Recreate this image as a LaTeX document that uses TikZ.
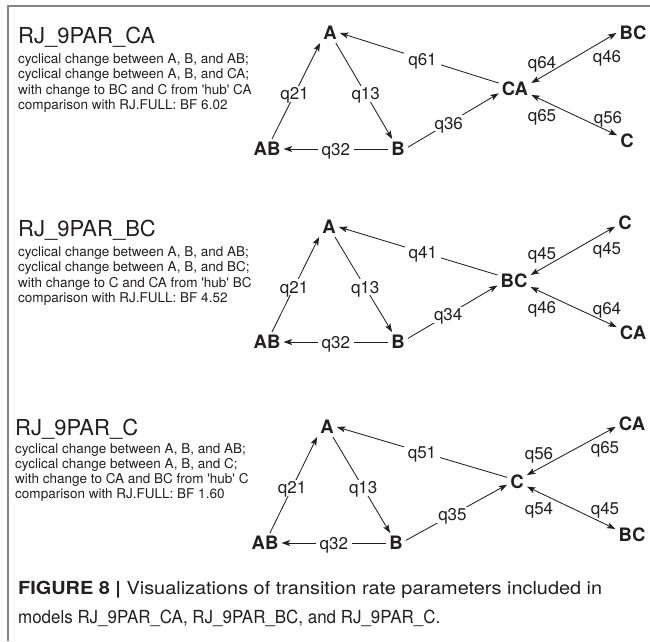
\documentclass[tikz,border=0pt]{standalone}
\usepackage{fontspec}
\setmainfont{TeX Gyre Heros}
\usetikzlibrary{arrows.meta}
\definecolor{ink}{HTML}{231F20}
\definecolor{framec}{HTML}{858585}
\begin{document}
\begin{tikzpicture}[x=1pt,y=-1pt,
  st/.style={font=\bfseries\fontsize{18.5}{20}\selectfont, inner sep=3pt, text=ink},
  lbl/.style={font=\fontsize{17}{18}\selectfont, fill=white, inner xsep=4pt, inner ysep=2pt, text height=12pt, text depth=0pt, text=ink},
  side/.style={font=\fontsize{17}{18}\selectfont, inner sep=0pt, text height=12pt, text depth=0pt, text=ink},
  mytip/.tip={Stealth[length=8.5pt,width=6pt,inset=2pt]},
  arr/.style={draw=ink, line width=0.85pt, -{mytip}},
  dbl/.style={draw=ink, line width=0.85pt, {mytip}-{mytip}},
  ttl/.style={font=\fontsize{22}{24}\selectfont, anchor=base west, inner sep=0pt, text=ink},
  dsc/.style={font=\fontsize{13.5}{15}\selectfont, anchor=base west, inner sep=0pt, text=ink},
  capt/.style={font=\fontsize{18}{20}\selectfont, anchor=base west, inner sep=0pt, text=ink}
]
\useasboundingbox[fill=white] (0,0) rectangle (650,641);
\draw[framec, line width=1.2pt] (650,6) -- (8,6) -- (8,641);

% ---------------- Panel 1 ----------------
\node[ttl] (t1) at (18,43) {RJ\_9PAR\_CA};
\node[dsc] (d1a) at (18,63) {cyclical change between A, B, and AB;};
\node[dsc] (d1b) at (18,78) {cyclical change between A, B, and CA;};
\node[dsc] (d1c) at (18,94) {with change to BC and C from \textquotesingle hub\textquotesingle\ CA};
\node[dsc] (d1d) at (18,109) {comparison with RJ.FULL: BF 6.02};

\node[st] (A1) at (330,33) {A};
\node[st] (B1) at (398,149) {B};
\node[st] (AB1) at (267,149) {AB};
\node[st] (H1) at (515,89) {CA};
\node[st] (T1) at (633,33) {BC};
\node[st] (U1) at (627,141) {C};

\draw[arr] (AB1) -- node[lbl,pos=0.47] (l1a) {q21} (A1.south west);
\draw[arr] (A1) -- node[lbl,pos=0.53] (l1b) {q13} (B1);
\draw[arr] (B1) -- node[lbl,pos=0.5] (l1c) {q32} (AB1);
\draw[arr] (H1.160) -- node[lbl,pos=0.48] (l1d) {q61} (A1.east);
\draw[arr] (B1.10) -- node[lbl,pos=0.45] (l1e) {q36} (H1.195);
\draw[dbl] (H1.20) -- (T1.west);
\draw[dbl] (H1.-20) -- (U1.150);
\node[side] (s1a) at (542,62) {q64};
\node[side] (s1b) at (607,56) {q46};
\node[side] (s1c) at (542,115) {q65};
\node[side] (s1d) at (608,117) {q56};

% ---------------- Panel 2 ----------------
\node[ttl] (t2) at (18,236) {RJ\_9PAR\_BC};
\node[dsc] (d2a) at (18,256) {cyclical change between A, B, and AB;};
\node[dsc] (d2b) at (18,271) {cyclical change between A, B, and BC;};
\node[dsc] (d2c) at (18,287) {with change to C and CA from \textquotesingle hub\textquotesingle\ BC};
\node[dsc] (d2d) at (18,302) {comparison with RJ.FULL: BF 4.52};

\node[st] (A2) at (329,227) {A};
\node[st] (B2) at (398,342) {B};
\node[st] (AB2) at (267,342) {AB};
\node[st] (H2) at (514,281) {BC};
\node[st] (T2) at (625,223) {C};
\node[st] (U2) at (633,333) {CA};

\draw[arr] (AB2) -- node[lbl,pos=0.47] (l2a) {q21} (A2.south west);
\draw[arr] (A2) -- node[lbl,pos=0.53] (l2b) {q13} (B2);
\draw[arr] (B2) -- node[lbl,pos=0.5] (l2c) {q32} (AB2);
\draw[arr] (H2.160) -- node[lbl,pos=0.47] (l2d) {q41} (A2.east);
\draw[arr] (B2.20) -- node[lbl,pos=0.45] (l2e) {q34} (H2.195);
\draw[dbl] (H2.20) -- (T2.200);
\draw[dbl] (H2.-20) -- (U2.160);
\node[side] (s2a) at (542,253) {q45};
\node[side] (s2b) at (607,248) {q45};
\node[side] (s2c) at (542,307) {q46};
\node[side] (s2d) at (607,308) {q64};

% ---------------- Panel 3 ----------------
\node[ttl] (t3) at (15,435) {RJ\_9PAR\_C};
\node[dsc] (d3a) at (15,453) {cyclical change between A, B, and AB;};
\node[dsc] (d3b) at (15,468) {cyclical change between A, B, and C;};
\node[dsc] (d3c) at (15,483) {with change to CA and BC from \textquotesingle hub\textquotesingle\ C};
\node[dsc] (d3d) at (15,498) {comparison with RJ.FULL: BF 1.60};

\node[st] (A3) at (327,427) {A};
\node[st] (B3) at (396,543) {B};
\node[st] (AB3) at (265,543) {AB};
\node[st] (H3) at (517,482) {C};
\node[st] (T3) at (632,424) {CA};
\node[st] (U3) at (632,535) {BC};

\draw[arr] (AB3) -- node[lbl,pos=0.47] (l3a) {q21} (A3.south west);
\draw[arr] (A3) -- node[lbl,pos=0.53] (l3b) {q13} (B3);
\draw[arr] (B3) -- node[lbl,pos=0.5] (l3c) {q32} (AB3);
\draw[arr] (H3.155) -- node[lbl,pos=0.5] (l3d) {q51} (A3.east);
\draw[arr] (B3.15) -- node[lbl,pos=0.46] (l3e) {q35} (H3.195);
\draw[dbl] (H3.35) -- (T3.190);
\draw[dbl] (H3.-25) -- (U3.160);
\node[side] (s3a) at (539,453) {q56};
\node[side] (s3b) at (605,447) {q65};
\node[side] (s3c) at (539,508) {q54};
\node[side] (s3d) at (605,508) {q45};

% ---------------- Caption ----------------
\node[capt] (cap1) at (18,594) {\resizebox{584pt}{\height}{\textbf{FIGURE 8 |} Visualizations of transition rate parameters included in}};
\node[capt] (cap2) at (18,623) {\resizebox{422pt}{\height}{models RJ\_9PAR\_CA, RJ\_9PAR\_BC, and RJ\_9PAR\_C.}};
\end{tikzpicture}
\end{document}
